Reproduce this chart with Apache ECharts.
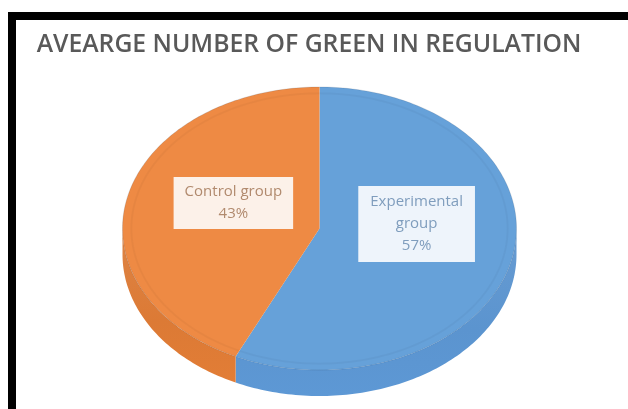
<!DOCTYPE html>
<html>
<head>
<meta charset="utf-8">
<script src="https://cdn.jsdelivr.net/npm/echarts@6/dist/echarts.min.js"></script>
<style>
html, body { margin: 0; padding: 0; background: #fff; }
#pieChart { width: 628px; height: 409px; }
</style>
</head>
<body>
<div id="pieChart"></div>
<script>
var byId = function(id){
	return document.getElementById(id);
};

// data
var titleText = 'AVEARGE NUMBER OF GREEN IN REGULATION';
var groupNames = ['Experimental\ngroup', 'Control group'];
var groupValues = [57, 43];

// look
var topColors = ['#66a1d9', '#ee8a44'];
var sideColors = ['#5b94cf', '#dc7a35'];
var labelText = ['#7f9dbd', '#b18a6e'];
var labelBg = ['#eef4fb', '#fcf1e9'];
var labelPad = [[5, 12], [4, 11]];
var labelShift = [[1, -20], [10, -10]];

// tilted pie geometry (pixels)
var cx = 319.5, cy = 228.5, rx = 197, ry = 141.5, depth = 26;

var total = groupValues.reduce(function(a, b){ return a + b; }, 0);
var starts = [];
var acc = 0;
for (var i = 0; i < groupValues.length; i++) {
	starts.push(acc);
	acc += groupValues[i];
}

// angle measured from 12 o'clock, clockwise
function pt(a, k, dy){
	return [cx + k * rx * Math.sin(a), cy - k * ry * Math.cos(a) + (dy || 0)];
}
function arc(a0, a1, k, dy){
	var pts = [];
	var n = Math.max(2, Math.ceil((a1 - a0) / 0.02));
	for (var j = 0; j <= n; j++) {
		pts.push(pt(a0 + (a1 - a0) * j / n, k, dy));
	}
	return pts;
}

function renderSlice(params, api){
	var idx = params.dataIndex;
	var a0 = api.value(1) / total * Math.PI * 2;
	var a1 = (api.value(1) + api.value(0)) / total * Math.PI * 2;
	var children = [];

	// side wall, only the front half shows
	var s0 = Math.max(a0, Math.PI / 2), s1 = Math.min(a1, Math.PI * 1.5);
	if (s1 > s0) {
		var rim = arc(s0, s1, 1, 0);
		var low = arc(s0, s1, 1, depth).reverse();
		children.push({
			type: 'polygon',
			shape: { points: rim.concat(low) },
			style: {
				fill: new echarts.graphic.LinearGradient(0, 0, 0, 1, [
					{ offset: 0, color: echarts.color.lift(sideColors[idx], 0.08) },
					{ offset: 0.6, color: sideColors[idx] },
					{ offset: 1, color: echarts.color.lift(sideColors[idx], -0.03) }
				])
			}
		});
	}

	// top face
	children.push({
		type: 'polygon',
		shape: { points: [[cx, cy]].concat(arc(a0, a1, 1, 0)) },
		style: { fill: topColors[idx] }
	});
	// soft bevel ring
	children.push({
		type: 'polyline',
		shape: { points: arc(a0, a1, 0.955, 0) },
		style: { stroke: 'rgba(0,0,0,0.03)', lineWidth: 2, fill: null }
	});
	children.push({
		type: 'polyline',
		shape: { points: arc(a0, a1, 1, 0) },
		style: { stroke: 'rgba(40,60,90,0.15)', lineWidth: 1, fill: null }
	});

	// data label
	var mid = (a0 + a1) / 2;
	var lp = pt(mid, 0.5, 0);
	var pct = Math.round(api.value(0) / total * 100) + '%';
	children.push({
		type: 'text',
		x: lp[0] + labelShift[idx][0],
		y: lp[1] + labelShift[idx][1],
		style: {
			text: groupNames[idx] + '\n' + pct,
			font: '15px "Open Sans"',
			fill: labelText[idx],
			align: 'center',
			verticalAlign: 'middle',
			lineHeight: 22,
			backgroundColor: labelBg[idx],
			padding: labelPad[idx]
		}
	});

	return { type: 'group', children: children };
}

var chartOption = {
	animation: false,
	backgroundColor: '#fff',
	graphic: [
		{ type: 'rect', shape: { x: 8, y: 12, width: 620, height: 8 }, style: { fill: '#000' } },
		{ type: 'rect', shape: { x: 8, y: 12, width: 8, height: 397 }, style: { fill: '#000' } },
		{
			type: 'text', x: 309, y: 45, scaleX: 0.99,
			style: {
				text: titleText,
				font: '600 25px "Open Sans"',
				fill: '#595959',
				align: 'center',
				verticalAlign: 'middle'
			}
		}
	],
	series: [{
		type: 'custom',
		coordinateSystem: 'none',
		renderItem: renderSlice,
		data: groupValues.map(function(v, i){ return [v, starts[i]]; })
	}]
};

var pieChart = echarts.init(byId('pieChart'));
pieChart.setOption(chartOption);
</script>
</body>
</html>
